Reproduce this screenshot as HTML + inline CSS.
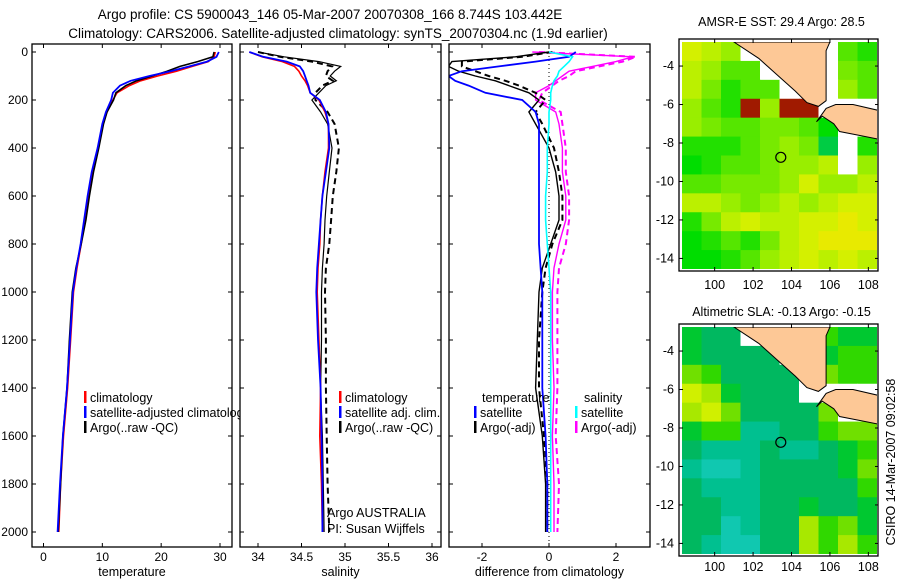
<!DOCTYPE html>
<html><head><meta charset="utf-8">
<style>
html,body{margin:0;padding:0;background:#fff;}
svg{display:block;font-family:"Liberation Sans",sans-serif;}
text{font-family:"Liberation Sans",sans-serif;}
</style></head>
<body>
<svg id="fig" width="900" height="580" viewBox="0 0 900 580" xmlns="http://www.w3.org/2000/svg">
<rect x="0" y="0" width="900" height="580" fill="#fff"/>
<text x="330" y="19" font-size="13.5" text-anchor="middle">Argo profile: CS 5900043_146 05-Mar-2007 20070308_166 8.744S 103.442E</text>
<text x="338" y="38" font-size="13.5" text-anchor="middle">Climatology: CARS2006. Satellite-adjusted climatology: synTS_20070304.nc (1.9d earlier)</text>
<g id="g"></g>
<text transform="translate(895,462) rotate(-90)" font-size="12.5" text-anchor="middle">CSIRO 14-Mar-2007 09:02:58</text>
</svg>
<script>
// ---------------- data ----------------
const depths      = [0, 20, 40, 60, 80, 100, 120, 140, 170, 200, 250, 300, 400, 500, 600, 700, 800, 900, 1000, 1200, 1400, 1600, 1800, 2000];
const tempClim    = [29.2, 29.0, 28.0, 25.3, 22.6, 19.4, 16.5, 14.6, 12.5, 11.8, 10.8, 10.1, 9.3, 8.3, 7.6, 7.0, 6.4, 5.7, 5.1, 4.6, 4.1, 3.4, 2.9, 2.6];
const tempSat     = [29.8, 29.4, 27.8, 24.8, 21.6, 18.0, 14.8, 13.0, 11.8, 11.5, 10.6, 10.0, 9.2, 8.2, 7.5, 6.9, 6.3, 5.6, 5.0, 4.5, 4.0, 3.3, 2.8, 2.4];
const tempArgo    = [29.0, 28.8, 26.2, 23.2, 21.0, 18.5, 15.8, 14.0, 12.3, 11.9, 10.8, 10.2, 9.4, 8.5, 7.8, 7.2, 6.4, 5.5, 4.9, 4.4, 4.0, 3.3, 2.9, 2.5];
const salClim     = [33.9, 34.05, 34.28, 34.42, 34.47, 34.50, 34.54, 34.57, 34.60, 34.70, 34.77, 34.81, 34.81, 34.77, 34.74, 34.72, 34.71, 34.69, 34.68, 34.70, 34.72, 34.71, 34.73, 34.74];
const salSat      = [33.9, 34.06, 34.33, 34.48, 34.52, 34.54, 34.56, 34.58, 34.60, 34.71, 34.78, 34.81, 34.82, 34.78, 34.74, 34.72, 34.70, 34.68, 34.67, 34.69, 34.72, 34.73, 34.74, 34.74];
const salArgo     = [34.0, 34.30, 34.70, 34.95, 34.88, 34.83, 34.90, 34.78, 34.70, 34.62, 34.72, 34.80, 34.85, 34.82, 34.79, 34.77, 34.76, 34.74, 34.73, 34.73, 34.72, 34.74, 34.75, 34.76];
const salArgoAdj  = [34.0, 34.25, 34.62, 34.85, 34.80, 34.78, 34.86, 34.74, 34.66, 34.66, 34.80, 34.88, 34.93, 34.90, 34.86, 34.84, 34.82, 34.78, 34.77, 34.78, 34.78, 34.79, 34.80, 34.82];
const dTempSat    = [0.8, 0.6, -0.4, -1.5, -2.6, -3.0, -2.8, -2.4, -1.9, -0.8, -0.4, -0.3, -0.3, -0.3, -0.3, -0.3, -0.3, -0.25, -0.2, -0.2, -0.2, -0.1, -0.05, -0.05];
const dTempArgo   = [0.0, -1.0, -2.9, -3.0, -2.7, -2.2, -1.6, -1.2, -0.6, -0.3, -0.6, -0.4, 0.0, 0.2, 0.3, 0.3, 0.05, -0.2, -0.3, -0.35, -0.4, -0.2, -0.1, -0.1];
const dTempArgoAdj= [0.1, -0.8, -2.6, -2.6, -2.2, -1.8, -1.3, -0.9, -0.4, -0.1, -0.4, -0.2, 0.15, 0.3, 0.4, 0.4, 0.1, -0.1, -0.2, -0.3, -0.3, -0.15, -0.05, -0.05];
const dSalSat     = [0.0, 0.7, 0.6, 0.45, 0.3, 0.25, 0.15, 0.1, 0.05, 0.05, 0.0, 0.0, -0.05, -0.05, -0.1, -0.1, -0.05, 0.0, 0.05, 0.05, 0.05, 0.05, 0.05, 0.05];
const dSalArgo    = [-0.5, 2.5, 2.0, 1.3, 0.6, 0.4, 0.2, 0.0, -0.4, -0.4, 0.2, 0.3, 0.4, 0.4, 0.5, 0.5, 0.3, 0.15, 0.1, 0.1, 0.15, 0.1, 0.15, 0.15];
const dSalArgoAdj = [-0.3, 2.6, 2.2, 1.5, 0.8, 0.6, 0.3, 0.1, -0.2, -0.3, 0.35, 0.4, 0.5, 0.5, 0.6, 0.6, 0.5, 0.3, 0.25, 0.25, 0.25, 0.2, 0.3, 0.25];
const depthTicks  = [0, 200, 400, 600, 800, 1000, 1200, 1400, 1600, 1800, 2000];
const tempTicks   = [0, 10, 20, 30];
const salTicks    = [34, 34.5, 35, 35.5, 36];
const salTickLabels = ["34", "34.5", "35", "35.5", "36"];
const diffTicks   = [-2, 0, 2];
const lonTicks    = [100, 102, 104, 106, 108];
const latTicks    = [-4, -6, -8, -10, -12, -14];
// SST map grid (0 green .. 9 yellow-orange, 20 dark red, -1 no data), rows from north
const sstGrid = [
 [7,6,5,-1,-1,-1,-1,-1,3,2],
 [6,5,3,3,-1,-1,-1,-1,4,3],
 [6,4,2,3,3,-1,-1,-1,5,3],
 [5,3,2,20,5,20,20,-1,-1,-1],
 [5,4,3,3,4,4,3,1,-1,-1],
 [2,2,2,3,4,5,4,0,-1,2],
 [1,2,3,3,4,5,5,6,-1,5],
 [3,3,4,4,4,5,7,5,5,6],
 [6,6,5,4,5,6,5,6,7,7],
 [2,4,6,7,6,6,7,7,8,7],
 [1,2,3,2,4,6,7,8,8,8],
 [1,1,2,3,5,6,7,6,7,6]
];
// SLA map grid (0 cyan .. 8 yellow)
const slaGrid = [
 [4,3,3,-1,-1,-1,-1,5,4,4],
 [4,3,3,3,3,-1,-1,4,5,5],
 [6,5,3,3,3,3,-1,6,5,5],
 [8,7,4,3,3,3,-1,-1,-1,-1],
 [7,8,6,3,3,3,3,6,-1,-1],
 [4,5,5,2,2,3,3,5,6,6],
 [3,2,2,2,3,2,2,3,4,5],
 [2,1,1,2,3,3,3,3,4,6],
 [3,2,2,2,3,3,3,3,3,5],
 [3,3,2,2,3,3,4,3,3,4],
 [3,3,1,2,3,3,7,5,6,4],
 [3,2,1,1,3,3,7,5,7,5]
];
const sumatraLon = [101.0, 102.3, 103.3, 104.2, 104.8, 105.4, 105.8, 105.8, 106.0];
const sumatraLat = [-2.75, -3.6, -4.5, -5.3, -5.9, -6.1, -5.8, -3.2, -2.75];
const javaLon = [105.3, 105.6, 106.2, 106.5, 107.5, 108.5, 108.5, 107.2, 106.3, 105.8];
const javaLat = [-6.9, -6.6, -7.0, -7.4, -7.6, -7.8, -6.3, -6.0, -6.0, -6.2];
const argoLon = 103.442, argoLat = -8.744;

// ---------------- drawing ----------------
const NS = "http://www.w3.org/2000/svg";
const G = document.getElementById('g');
function mk(tag, attrs, parent){ const e=document.createElementNS(NS,tag); for(const k in attrs) e.setAttribute(k,attrs[k]); (parent||G).appendChild(e); return e; }
function txt(x,y,s,size,anchor,parent){ const t=mk('text',{x:x,y:y,'font-size':size||12,'text-anchor':anchor||'start'},parent); t.textContent=s; return t; }

const PY0=52, PY1=532, PBOT=547, PTOP=44;
const yD = d => PY0 + d*(PY1-PY0)/2000;
const panels = [
  {name:'temperature-panel', x0:32, x1:232, v0:0, v1:30, px0:43.5, px1:220},
  {name:'salinity-panel', x0:240, x1:441, v0:34, v1:36, px0:258, px1:432},
  {name:'difference-panel', x0:449, x1:650, v0:-2, v1:2, px0:482, px1:616}
];
panels.forEach(p => { p.f = v => p.px0 + (v-p.v0)*(p.px1-p.px0)/(p.v1-p.v0); });

function line(p, vals, color, w, dash, name){
  const pts = depths.map((d,i)=> p.f(vals[i]).toFixed(1)+','+yD(d).toFixed(1)).join(' ');
  const pl = mk('polyline',{points:pts,fill:'none',stroke:color,'stroke-width':w,'stroke-dasharray':dash||'none','clip-path':'url(#clip-'+p.name+')'});
  
  
}
function legendItem(x,y,color,label,name){
  if(color){ const r=mk('rect',{x:x,y:y-11,width:2.5,height:12,fill:color});   }
  const t=txt(x+(color?6:0),y,label,12.5);
  
  
}

const defs = mk('defs',{});
panels.forEach((p,pi) => {
  const cp = mk('clipPath',{id:'clip-'+p.name},defs);
  mk('rect',{x:p.x0,y:PTOP,width:p.x1-p.x0,height:PBOT-PTOP},cp);
  const bg = mk('rect',{x:p.x0,y:PTOP,width:p.x1-p.x0,height:PBOT-PTOP,fill:'#fff',stroke:'none'});
  
  
  if(pi===0){
    line(p,tempClim,'#ff0000',1.6,null,'temp-climatology-line');
    line(p,tempArgo,'#000',1.6,null,'temp-argo-line');
    line(p,tempSat,'#0000ff',1.8,null,'temp-satellite-line');
    legendItem(84,402,'#ff0000','climatology','legend-climatology');
    legendItem(84,417,'#0000ff','satellite-adjusted climatology','legend-satellite-adjusted');
    legendItem(84,432,'#000','Argo(..raw -QC)','legend-argo-raw');
  } else if(pi===1){
    line(p,salArgoAdj,'#000',2,'6,4','sal-argo-adj-line');
    line(p,salArgo,'#000',1.2,null,'sal-argo-line');
    line(p,salClim,'#ff0000',1.6,null,'sal-climatology-line');
    line(p,salSat,'#0000ff',1.8,null,'sal-satellite-line');
    legendItem(339,402,'#ff0000','climatology','legend-sal-climatology');
    legendItem(339,417,'#0000ff','satellite adj. clim.','legend-sal-satellite');
    legendItem(339,432,'#000','Argo(..raw -QC)','legend-sal-argo');
    const a=txt(327,517,'Argo AUSTRALIA',12.5);  
    const b=txt(327,533,'PI: Susan Wijffels',12.5);  
  } else {
    const z = mk('line',{x1:p.f(0),x2:p.f(0),y1:PTOP,y2:PBOT,stroke:'#000','stroke-width':1,'stroke-dasharray':'1,3'});
     
    line(p,dSalArgoAdj,'#ff00ff',2,'6,4','diff-sal-argo-adj-line');
    line(p,dSalArgo,'#ff00ff',1.4,null,'diff-sal-argo-line');
    line(p,dTempArgoAdj,'#000',2,'6,4','diff-temp-argo-adj-line');
    line(p,dTempArgo,'#000',1.4,null,'diff-temp-argo-line');
    line(p,dTempSat,'#0000ff',1.8,null,'diff-temp-satellite-line');
    line(p,dSalSat,'#00ffff',1.6,null,'diff-sal-satellite-line');
    legendItem(482,402,null,'temperature','legend-temperature-heading');
    legendItem(474,417,'#0000ff','satellite','legend-temp-satellite');
    legendItem(474,432,'#000','Argo(-adj)','legend-temp-argo');
    legendItem(584,402,null,'salinity','legend-salinity-heading');
    legendItem(575,417,'#00ffff','satellite','legend-sal-satellite-diff');
    legendItem(575,432,'#ff00ff','Argo(-adj)','legend-sal-argo-diff');
  }
  const fr = mk('rect',{x:p.x0,y:PTOP,width:p.x1-p.x0,height:PBOT-PTOP,fill:'none',stroke:'#000','stroke-width':1.3});
  
  
  depthTicks.forEach(d => {
    mk('line',{x1:p.x0,x2:p.x0+4,y1:yD(d),y2:yD(d),stroke:'#000'});
    mk('line',{x1:p.x1-4,x2:p.x1,y1:yD(d),y2:yD(d),stroke:'#000'});
    if(pi===0){ const t=txt(p.x0-4,yD(d)+4,String(d),12,'end');   }
  });
  const xt = pi===0?tempTicks:(pi===1?salTicks:diffTicks);
  xt.forEach((v,i) => {
    const x=p.f(v);
    mk('line',{x1:x,x2:x,y1:PTOP,y2:PTOP+4,stroke:'#000'});
    mk('line',{x1:x,x2:x,y1:PBOT-4,y2:PBOT,stroke:'#000'});
    const lab = pi===1?salTickLabels[i]:String(v);
    const t=txt(x,561,lab,12,'middle');  
  });
  const ttl = ['temperature','salinity','difference from climatology'][pi];
  const t=txt((p.x0+p.x1)/2,576,ttl,12.5,'middle');
  
  
});

// ---------------- maps ----------------
const LON0=98.3, LON1=108.45, LAT0=-2.75, LAT1=-14.55;
function sstColor(v){
  if(v<0) return '#ffffff';
  if(v>=20) return '#a01a00';
  const cs=['#00cc44','#00dd00','#22e000','#55e600','#77ea00','#99ee00','#bbf000','#d4f000','#e8ea00','#f0d800'];
  return cs[Math.max(0,Math.min(9,v))];
}
function slaColor(v){
  if(v<0) return '#ffffff';
  const cs=['#10d8d8','#10c8b0','#00c090','#00b860','#00c830','#30d800','#70e000','#a8e800','#d0f000'];
  return cs[Math.max(0,Math.min(8,v))];
}
function drawMap(name,title,grid,colorFn,x0,y0,x1,y1,titleY,lonLabelY){
  const mx = lon => x0 + (lon-LON0)*(x1-x0)/(LON1-LON0);
  const my = lat => y0 + (lat-LAT0)*(y1-y0)/(LAT1-LAT0);
  const tt = txt((x0+x1)/2+2,titleY,title,12.5,'middle');  
  const cp = mk('clipPath',{id:'clip-'+name},defs);
  mk('rect',{x:x0,y:y0,width:x1-x0,height:y1-y0},cp);
  const gg = mk('g',{'clip-path':'url(#clip-'+name+')'});
  
  
  const nr=grid.length, nc=grid[0].length;
  const cw=(x1-x0)/nc, ch=(y1-y0)/nr;
  grid.forEach((row,r)=>row.forEach((v,c)=>{
    const cell = mk('rect',{x:(x0+c*cw).toFixed(2),y:(y0+r*ch).toFixed(2),width:(cw+0.5).toFixed(2),height:(ch+0.5).toFixed(2),fill:colorFn(v)},gg);
    
    
  }));
  const s = mk('polygon',{points:sumatraLon.map((lo,i)=>mx(lo).toFixed(1)+','+my(sumatraLat[i]).toFixed(1)).join(' '),fill:'#fdc896',stroke:'#000','stroke-width':1},gg);
   
  const j = mk('polygon',{points:javaLon.map((lo,i)=>mx(lo).toFixed(1)+','+my(javaLat[i]).toFixed(1)).join(' '),fill:'#fdc896',stroke:'#000','stroke-width':1},gg);
   
  const c = mk('circle',{cx:mx(argoLon),cy:my(argoLat),r:5,fill:'none',stroke:'#000','stroke-width':1.2});
   
  const fr = mk('rect',{x:x0-3,y:y0-3,width:x1-x0+4,height:y1-y0+5,fill:'none',stroke:'#000','stroke-width':1.3});
   
  lonTicks.forEach(lo=>{
    const x=mx(lo);
    mk('line',{x1:x,x2:x,y1:y0-3,y2:y0+1,stroke:'#000'});
    mk('line',{x1:x,x2:x,y1:y1-2,y2:y1+2,stroke:'#000'});
    const t=txt(x,lonLabelY,String(lo),12.5,'middle');  
  });
  latTicks.forEach(la=>{
    const y=my(la);
    mk('line',{x1:x0-3,x2:x0+1,y1:y,y2:y,stroke:'#000'});
    mk('line',{x1:x1-2,x2:x1+1,y1:y,y2:y,stroke:'#000'});
    const t=txt(x0-8,y+4,String(la),12.5,'end');  
  });
}
drawMap('sst-map','AMSR-E SST: 29.4 Argo: 28.5',sstGrid,sstColor,682,42,877,269,26,289);
drawMap('sla-map','Altimetric SLA: -0.13 Argo: -0.15',slaGrid,slaColor,682,327,877,554,316,571);
</script>
</body></html>
